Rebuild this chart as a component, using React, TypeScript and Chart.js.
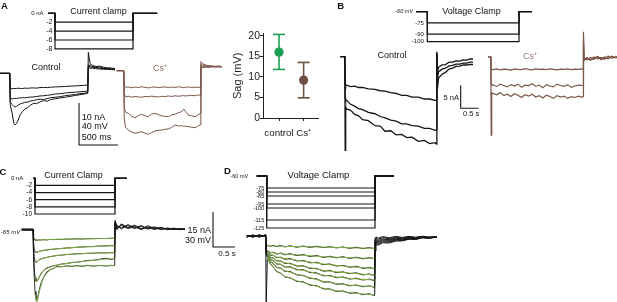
import React, { useEffect, useRef } from "react";
import { Chart, registerables } from "chart.js";
Chart.register(...registerables);

const FONT = '"Liberation Sans", Arial, Helvetica, sans-serif';
const BLACK = "#141414";
const CS_BROWN = "#7c5649";
const FIT_GREEN = "#84b243";

// ================= DATA =================
// ---- Panel A: current-clamp command (nA), times in ms ----
const cmdStepsA = [-2, -4, -6, -8];
const cmdTimesA = [-90, 0, 1000, 1310];

// ---- Panel A: control voltage traces (mV) ----
const tA = [-130, -3, 3, 25, 50, 65, 85, 105, 130, 160, 190, 225, 260, 300, 340, 385, 430, 480, 520, 580, 640, 700, 770, 840, 910, 960, 997, 1004, 1030, 1060, 1100, 1150, 1200, 1250, 1300, 1346];
const ctlA1 = [-60, -60, -74.5, -74.7, -74.3, -74.6, -74.4, -74.2, -74.4, -74.5, -74.1, -74.3, -74.0, -73.9, -74.1, -73.6, -73.5, -73.6, -73.2, -73.0, -72.8, -72.6, -72.2, -72.0, -71.7, -71.4, -71.2, -54.5, -55.2, -55.0, -55.6, -55.9, -56.1, -56.4, -56.3, -56.8];
const ctlA2 = [-60, -60, -84.0, -84.3, -84.1, -83.8, -84.0, -83.6, -83.5, -83.2, -83.4, -82.9, -82.7, -82.5, -82.1, -81.6, -81.4, -80.9, -80.6, -79.7, -79.5, -78.9, -78.3, -78.0, -77.5, -77.2, -76.9, -53.0, -54.0, -54.5, -54.3, -55.2, -55.6, -55.4, -56.0, -56.3];
const ctlA3 = [-60, -60, -87.5, -89.5, -91.5, -92.1, -91.5, -90.3, -89.2, -88.5, -87.6, -87.4, -86.4, -86.0, -85.2, -84.6, -84.9, -84.0, -83.2, -82.8, -82.3, -81.4, -80.8, -80.2, -79.3, -78.9, -78.4, -52.0, -52.8, -53.6, -54.2, -54.0, -55.0, -55.3, -55.8, -56.0];
const ctlA4 = [-60, -60, -90, -97, -108, -109.2, -107.5, -104.5, -99.5, -96.5, -94.0, -92.8, -90.5, -88.6, -88.9, -87.2, -86.0, -86.6, -85.0, -84.2, -83.5, -82.9, -82.0, -81.0, -80.3, -79.6, -79.0, -40.0, -51.5, -52.5, -53.5, -53.2, -54.3, -54.8, -55.0, -55.5];

// ---- Panel A: Cs+ voltage traces (mV) ----
const tCsA = [-95, -3, 3, 20, 57, 100, 144, 188, 231, 275, 318, 360, 405, 450, 492, 535, 580, 623, 667, 710, 754, 780, 800, 841, 885, 928, 960, 994, 1005, 1030, 1070, 1110, 1150, 1190, 1230, 1280];
const csA1 = [-60, -60, -74, -75.8, -75.5, -76.2, -75.6, -76.0, -75.3, -75.9, -76.4, -75.7, -75.5, -76.1, -75.8, -75.4, -76.0, -75.6, -75.9, -75.3, -75.8, -76.2, -75.7, -75.5, -76.0, -75.6, -75.9, -75.7, -57.5, -57.2, -56.6, -56.9, -56.4, -56.6, -56.3, -56.4];
const csA2 = [-60, -60, -82, -84.8, -84.3, -85.2, -84.6, -84.9, -85.3, -84.5, -84.8, -84.2, -84.7, -85.0, -84.4, -84.6, -84.1, -84.5, -83.9, -84.3, -84.0, -83.6, -84.1, -83.8, -83.5, -83.9, -83.3, -83.1, -55.5, -56.2, -56.0, -55.6, -56.1, -55.8, -56.3, -56.0];
const csA3 = [-60, -60, -95, -99.5, -100.6, -103.5, -104.8, -102.8, -101.5, -103.0, -103.8, -101.2, -100.6, -101.8, -102.9, -103.5, -103.8, -102.0, -101.5, -100.0, -99.0, -96.5, -98.5, -102.2, -103.0, -103.8, -102.5, -100.6, -54, -54.8, -55.6, -55.2, -56.0, -55.9, -55.4, -56.1];
const csA4 = [-60, -60, -105, -114, -116.5, -118.5, -119.6, -119.0, -118.1, -119.5, -120.6, -119.0, -117.4, -116.8, -116.5, -115.8, -115.5, -114.0, -111.7, -112.6, -112.4, -113.0, -112.8, -113.3, -113.8, -114.3, -113.0, -111.7, -51.4, -53.5, -54.5, -55.8, -55.3, -56.2, -55.9, -56.5];

// ---- Panel A: Sag summary (mV) ----
const sagCategories = ["control", "Cs\u207A"];
const sagMean = [16.0, 9.2];
const sagLow = [11.8, 4.9];
const sagHigh = [20.3, 13.5];
const sagTicks = [0, 5, 10, 15, 20];

// ---- Panel B: voltage-clamp command (mV) ----
const cmdStepsB = [-75, -90, -100];
const cmdTimesB = [-320, 0, 2600, 2960];

// ---- Panel B: control current traces (nA) ----
const tB = [-130, -5, 5, 20, 48, 150, 285, 380, 500, 662, 850, 1000, 1134, 1300, 1450, 1607, 1750, 1900, 2079, 2250, 2400, 2552, 2595, 2605, 2620, 2650, 2750, 2850, 2950, 3050, 3150, 3250, 3350, 3450, 3550, 3630];
const ctlB1 = [0, 0, -6.0, -6.3, -6.2, -6.5, -6.4, -6.7, -6.65, -7.0, -7.1, -7.4, -7.5, -7.8, -8.0, -8.4, -8.4, -8.8, -8.8, -9.2, -9.2, -9.5, -9.45, 0.5, -3.5, -2.3, -1.8, -1.7, -1.2, -1.2, -0.9, -0.95, -0.7, -0.75, -0.5, -0.5];
const ctlB2 = [0, 0, -9.0, -9.5, -9.5, -10.3, -10.8, -11.3, -11.5, -12.1, -12.4, -13.0, -13.3, -13.8, -14.0, -14.6, -14.6, -15.0, -15.1, -15.6, -15.6, -16.0, -15.9, 0.8, -5.0, -3.3, -2.7, -2.5, -2.0, -1.9, -1.6, -1.6, -1.4, -1.4, -1.2, -1.2];
const ctlB3 = [0, 0, -20.5, -10.9, -11.4, -11.6, -12.6, -12.8, -13.7, -13.9, -15.0, -15.1, -16.2, -16.1, -17.0, -16.9, -17.6, -17.5, -18.4, -18.2, -18.9, -18.7, -19.0, 1.1, -7.0, -4.7, -3.8, -3.4, -2.7, -2.5, -2.1, -2.05, -1.8, -1.8, -1.65, -1.7];

// ---- Panel B: Cs+ current traces (nA) ----
const tCsB = [-85, -5, 5, 20, 60, 160, 260, 360, 460, 560, 660, 760, 860, 960, 1060, 1160, 1260, 1360, 1460, 1560, 1660, 1760, 1860, 1960, 2060, 2160, 2260, 2360, 2460, 2560, 2598, 2605, 2620, 2700, 2800, 2900, 3000, 3100, 3200, 3300, 3400, 3500, 3550];
const csB1 = [0, 0, -2.6, -2.7, -2.75, -2.6, -2.8, -2.65, -2.7, -2.9, -2.6, -2.7, -2.75, -2.55, -2.7, -2.8, -2.6, -2.7, -2.65, -2.75, -2.6, -2.7, -2.8, -2.65, -2.7, -2.6, -2.75, -2.65, -2.7, -2.6, -2.65, 3.0, -0.3, -0.6, -0.1, -0.5, 0.1, -0.4, 0.0, -0.3, 0.1, -0.2, 0.0];
const csB2 = [0, 0, -5.8, -6.0, -6.1, -6.4, -5.9, -6.2, -6.5, -6.0, -6.3, -5.9, -6.6, -6.1, -6.2, -5.8, -6.4, -6.1, -6.7, -6.0, -6.3, -6.5, -5.9, -6.2, -6.4, -6.0, -6.6, -6.3, -6.1, -6.2, -6.2, 4.0, -0.5, -0.2, -0.6, 0.0, -0.4, -0.1, -0.5, 0.2, -0.3, 0.0, -0.2];
const csB3 = [0, 0, -17, -7.8, -7.9, -8.2, -7.7, -8.4, -8.1, -8.6, -8.0, -8.3, -8.8, -8.2, -8.5, -8.1, -8.7, -8.4, -8.9, -8.3, -8.6, -9.0, -8.4, -8.7, -8.5, -9.0, -8.6, -8.8, -8.5, -8.7, -8.6, 5.5, -0.8, -0.1, -0.7, -0.3, 0.1, -0.6, -0.2, -0.4, 0.2, -0.1, 0.1];

// ---- Panel C: current-clamp command (nA) ----
const cmdStepsC = [-2, -4, -6, -8, -10];
const cmdTimesC = [-39, 0, 1850, 2120];

// ---- Panel C: voltage traces (mV) and fits ----
const tC = [-264, -5, 5, 20, 40, 60, 77, 100, 130, 170, 227, 303, 379, 455, 530, 650, 758, 870, 985, 1100, 1230, 1364, 1500, 1650, 1780, 1850, 1860, 1900, 2000, 2150, 2300, 2450, 2600, 2750, 2900, 3050, 3200, 3330, 3448];
const baseC1 = [-64.6, -64.6];
const baseC2 = [-65.4, -65.4];
const stepC1 = [-71, -73.4, -73.6, -74.2, -73.8, -74.0, -73.7, -73.9, -73.5, -73.8, -73.3, -73.5, -73.2, -73.4, -73.0, -73.1, -72.8, -73.0, -72.7, -72.7, -72.5, -72.6, -72.3, -72.4];
const stepC2 = [-76, -82.2, -84.0, -84.6, -84.3, -84.1, -83.5, -83.3, -82.7, -82.5, -81.9, -81.8, -81.3, -81.1, -80.6, -80.5, -80.0, -79.9, -79.5, -79.5, -79.0, -78.9, -78.6, -78.7];
const stepC3 = [-80, -88.0, -92.2, -92.9, -92.6, -92.1, -90.8, -90.1, -89.4, -88.8, -88.0, -87.7, -87.1, -86.8, -86.2, -86.1, -85.6, -85.6, -85.2, -85.2, -84.8, -84.9, -84.6, -84.7];
const stepC4 = [-85, -97, -106, -109, -109.6, -108.3, -106.2, -102.8, -100.2, -97.8, -96.9, -95.8, -95.5, -94.3, -94.0, -93.1, -92.8, -92.3, -91.4, -91.2, -90.4, -89.4, -90.6, -89.5];
const stepC5 = [-88, -105, -118, -124, -125.5, -123, -117.5, -111.5, -106.2, -101.4, -99.2, -98.3, -96.5, -96.8, -95.9, -96.6, -95.7, -96.4, -95.5, -96.3, -95.6, -96.1, -95.5, -95.8];
const postC1 = [-60, -63.5, -61.5, -64.0, -62.5, -64.5, -63.0, -64.8, -63.5, -64.9, -64.0, -64.9, -64.5];
const postC2 = [-59, -62.0, -63.5, -61.5, -64.0, -62.0, -64.5, -63.0, -65.0, -63.5, -64.8, -64.2, -64.6];
const postC3 = [-58.5, -64.5, -60.5, -63.5, -61.0, -64.0, -62.5, -64.5, -63.0, -65.0, -64.0, -64.6, -64.3];
const postC4 = [-58, -61.0, -64.5, -60.5, -63.5, -61.5, -64.0, -62.5, -64.5, -63.8, -64.9, -64.0, -64.7];
const postC5 = [-57, -65.0, -60.0, -63.0, -62.0, -65.0, -61.5, -64.0, -63.2, -64.5, -63.6, -65.0, -64.2];
const tFitC = [40, 77, 130, 227, 379, 530, 758, 985, 1230, 1500, 1850];
const fitC1 = [-73.8, -73.9, -73.9, -73.6, -73.4, -73.3, -73.1, -72.9, -72.8, -72.6, -72.4];
const fitC2 = [-84.2, -84.4, -83.6, -82.8, -82.0, -81.4, -80.7, -80.1, -79.6, -79.1, -78.7];
const fitC3 = [-92.0, -92.8, -91.0, -89.5, -88.1, -87.2, -86.3, -85.7, -85.3, -84.9, -84.7];
const fitC4 = [-106, -109.8, -106, -100, -96.9, -95.3, -93.9, -92.8, -91.8, -90.8, -89.6];
const fitC5 = [-120, -129, -119, -106, -99.5, -97.0, -96.2, -96.0, -95.9, -95.8, -95.8];

// ---- Panel D: voltage-clamp command (mV) ----
const cmdStepsD = [-75, -80, -85, -95, -100, -115, -125];
const cmdTimesD = [-229, 0, 2480, 2915];

// ---- Panel D: current traces (nA) and fits ----
const tD = [-439, -300, -150, -5, 3, 30, 53, 100, 160, 242, 330, 430, 545, 700, 850, 1000, 1150, 1303, 1450, 1600, 1750, 1900, 2050, 2200, 2350, 2470, 2480, 2500, 2550, 2650, 2800, 2950, 3100, 3250, 3400, 3550, 3700, 3880];
const baseD1 = [0.3, -0.4, 0.4, -0.3];
const baseD2 = [-0.5, 0.4, -0.4, 0.5];
const stepD1 = [-3.5, -4.4, -3.9, -4.5, -4.0, -4.6, -4.1, -4.7, -4.2, -4.8, -4.3, -4.9, -4.4, -5.0, -4.6, -5.1, -4.7, -5.3, -4.8, -5.4, -5.0, -5.4];
const stepD2 = [-5.5, -6.7, -6.4, -7.3, -6.9, -7.8, -7.3, -8.1, -7.6, -8.4, -8.0, -8.8, -8.4, -9.2, -8.7, -9.4, -8.9, -9.6, -9.1, -9.8, -9.3, -9.7];
const stepD3 = [-6, -7.3, -7.1, -8.3, -8.2, -9.3, -9.1, -10.0, -9.7, -10.7, -10.5, -11.5, -11.3, -12.3, -12.0, -12.9, -12.6, -13.4, -13.0, -13.9, -13.5, -14.1];
const stepD4 = [-6.5, -8.1, -7.9, -9.3, -9.4, -10.7, -10.7, -11.8, -11.7, -12.9, -12.8, -13.9, -13.9, -15.1, -14.8, -15.7, -15.4, -16.2, -15.8, -16.7, -16.3, -17.0];
const stepD5 = [-7, -8.7, -8.6, -10.2, -10.5, -12.0, -12.1, -13.3, -13.2, -14.5, -14.5, -15.7, -15.8, -17.1, -16.9, -17.9, -17.6, -18.5, -18.1, -18.9, -18.5, -19.2];
const stepD6 = [-7.5, -9.3, -9.3, -11.1, -11.7, -13.5, -13.8, -15.2, -15.2, -16.7, -16.9, -18.2, -18.4, -19.8, -19.7, -20.7, -20.5, -21.4, -21.0, -21.8, -21.4, -22.1];
const stepD7 = [-30, -9.9, -10.0, -12.1, -13.1, -15.3, -15.9, -17.6, -17.9, -19.5, -19.7, -21.1, -21.3, -22.7, -22.7, -23.8, -23.6, -24.6, -24.3, -25.2, -24.8, -25.6];
const postD1 = [-0.8, -0.4, -0.9, -0.3, -0.7, -0.2, -0.6, -0.2, -0.5, -0.1, -0.4, -0.2];
const postD2 = [-1.4, -1.0, -1.5, -0.7, -1.2, -0.5, -0.9, -0.4, -0.8, -0.3, -0.6, -0.3];
const postD3 = [-2.0, -1.6, -2.0, -1.2, -1.6, -0.9, -1.2, -0.6, -1.0, -0.4, -0.7, -0.4];
const postD4 = [-2.6, -2.2, -2.5, -1.6, -1.9, -1.2, -1.4, -0.8, -1.1, -0.5, -0.8, -0.4];
const postD5 = [-3.2, -2.7, -3.0, -2.0, -2.3, -1.5, -1.7, -1.0, -1.2, -0.6, -0.9, -0.4];
const postD6 = [-3.8, -3.3, -3.4, -2.5, -2.6, -1.8, -1.9, -1.2, -1.4, -0.7, -0.9, -0.5];
const postD7 = [-6.5, -3.8, -3.9, -2.9, -3.0, -2.2, -2.1, -1.4, -1.5, -0.8, -1.0, -0.5];
const tFitD = [30, 100, 242, 430, 700, 1000, 1303, 1600, 1900, 2200, 2470];
const fitD1 = [-4.1, -4.25, -4.35, -4.45, -4.55, -4.65, -4.75, -4.9, -5.05, -5.2, -5.3];
const fitD2 = [-6.4, -6.95, -7.45, -7.8, -8.1, -8.5, -8.9, -9.1, -9.3, -9.5, -9.6];
const fitD3 = [-7.0, -8.0, -9.0, -9.7, -10.4, -11.2, -12.0, -12.6, -13.1, -13.6, -13.9];
const fitD4 = [-7.8, -9.0, -10.4, -11.5, -12.6, -13.6, -14.8, -15.4, -15.9, -16.4, -16.7];
const fitD5 = [-8.4, -9.9, -11.7, -13.0, -14.2, -15.4, -16.8, -17.6, -18.2, -18.6, -18.9];
const fitD6 = [-9.0, -10.8, -13.2, -14.9, -16.4, -17.9, -19.5, -20.4, -21.1, -21.5, -21.8];
const fitD7 = [-9.6, -11.8, -15.0, -17.3, -19.2, -20.8, -22.4, -23.5, -24.3, -24.9, -25.3];

// ================= HELPERS =================
type P = { x: number; y: number };
const pts = (t: number[], v: number[]): P[] => t.map((x, i) => ({ x, y: v[i] }));
const stepPoly = (times: number[], hold: number, level: number): P[] => [
  { x: times[0], y: hold }, { x: times[1], y: hold }, { x: times[1], y: level },
  { x: times[2], y: level }, { x: times[2], y: hold }, { x: times[3], y: hold },
];
const scaleBar = (t: number, v: number, dt: number, dv: number): P[] => [
  { x: t, y: v + dv }, { x: t, y: v }, { x: t + dt, y: v },
];

type Series = { data: P[]; color: string; width?: number };
type LabelItem = { value: number; text: string; x: number; gap: number; size: number; italic?: boolean; dy?: number };
type MiniProps = {
  box: [number, number, number, number];
  xRef: [number, number]; xPx: number;
  yRef: [number, number]; yPx: number;
  series: Series[];
  labels?: LabelItem[];
};

function Mini(p: MiniProps) {
  const ref = useRef<HTMLCanvasElement>(null);
  const [l, t, w, h] = p.box;
  useEffect(() => {
    const xMin = p.xRef[0] + (l - p.xRef[1]) / p.xPx;
    const xMax = xMin + w / p.xPx;
    const yMax = p.yRef[0] + (p.yRef[1] - t) / p.yPx;
    const yMin = yMax - h / p.yPx;
    const labelPlugin = {
      id: "levelLabels",
      afterDraw(chart: any) {
        if (!p.labels) return;
        const ctx = chart.ctx;
        const xs = chart.scales.x, ys = chart.scales.y;
        ctx.save();
        ctx.fillStyle = "#111";
        ctx.textAlign = "right";
        ctx.textBaseline = "middle";
        for (const it of p.labels) {
          ctx.font = `${it.italic ? "italic " : ""}${it.size}px ${FONT}`;
          ctx.fillText(it.text, xs.getPixelForValue(it.x) - it.gap, ys.getPixelForValue(it.value) + (it.dy || 0));
        }
        ctx.restore();
      },
    };
    const chart = new Chart(ref.current as HTMLCanvasElement, {
      type: "line",
      data: {
        datasets: p.series.map((s) => ({
          data: s.data,
          borderColor: s.color,
          borderWidth: s.width ?? 1,
          pointRadius: 0,
          fill: false,
          tension: 0,
          clip: false,
        })) as any,
      },
      options: {
        animation: false,
        responsive: false,
        devicePixelRatio: 1,
        events: [],
        layout: { padding: 0 },
        plugins: { legend: { display: false }, tooltip: { enabled: false } },
        scales: {
          x: { type: "linear", display: false, min: xMin, max: xMax },
          y: { type: "linear", display: false, min: yMin, max: yMax },
        },
      } as any,
      plugins: [labelPlugin as any],
    });
    return () => chart.destroy();
  }, []);
  return (
    <canvas ref={ref} width={w} height={h}
      style={{ position: "absolute", left: l, top: t, width: w, height: h }} />
  );
}

function SagChart() {
  const ref = useRef<HTMLCanvasElement>(null);
  useEffect(() => {
    const colors = ["#1c9f52", "#6e5047"];
    const datasets: any[] = [];
    sagMean.forEach((m, i) => {
      const x = i + 1;
      datasets.push({
        type: "scatter", data: [{ x, y: m }], pointRadius: 4.6,
        pointBackgroundColor: colors[i], pointBorderColor: colors[i], pointBorderWidth: 0,
      });
      datasets.push({
        type: "line", data: [{ x, y: sagLow[i] }, { x, y: sagHigh[i] }],
        borderColor: colors[i], borderWidth: 1.6, showLine: true, clip: false,
        pointStyle: "line", pointRadius: 6, pointBorderWidth: 1.6,
        pointBorderColor: colors[i], pointBackgroundColor: colors[i],
      });
    });
    const tickFont = { family: FONT, size: 10.5 };
    const chart = new Chart(ref.current as HTMLCanvasElement, {
      type: "scatter",
      data: { datasets },
      options: {
        animation: false, responsive: false, devicePixelRatio: 1, events: [],
        layout: { padding: { top: 7, right: 6, left: 0, bottom: 0 } },
        plugins: { legend: { display: false }, tooltip: { enabled: false } },
        scales: {
          x: {
            type: "linear", min: 0.35, max: 2.6,
            afterBuildTicks: (s: any) => { s.ticks = [{ value: 1 }, { value: 2 }]; },
            afterFit: (s: any) => { s.height = 28; },
            ticks: { callback: (v: any) => sagCategories[Math.round(v) - 1], font: { family: FONT, size: 9.8 }, color: "#222", padding: 6, autoSkip: false, maxRotation: 0 },
            grid: { display: true, drawOnChartArea: false, drawTicks: true, tickLength: 3, color: "#222", lineWidth: 1 },
            border: { color: "#222", width: 1 },
          },
          y: {
            type: "linear", min: 0, max: 20.5,
            afterBuildTicks: (s: any) => { s.ticks = sagTicks.map((v) => ({ value: v })); },
            afterFit: (s: any) => { s.width = 37; },
            ticks: { font: tickFont, color: "#222", padding: 0 },
            grid: { display: true, drawOnChartArea: false, drawTicks: true, tickLength: 3, color: "#222", lineWidth: 1 },
            border: { color: "#222", width: 1 },
            title: { display: true, text: "Sag (mV)", font: { family: FONT, size: 11 }, color: "#222", padding: { top: 5.5, bottom: 0 } },
          },
        },
      } as any,
    });
    return () => chart.destroy();
  }, []);
  return <canvas ref={ref} width={100} height={120} style={{ position: "absolute", left: 226, top: 26, width: 100, height: 120 }} />;
}

function Txt(props: { x: number; y: number; size?: number; align?: "left" | "center" | "right"; bold?: boolean; italic?: boolean; color?: string; children: any }) {
  const { x, y, size = 9, align = "center", bold, italic, color = "#111" } = props;
  const tx = align === "center" ? "-50%" : align === "right" ? "-100%" : "0";
  return (
    <div style={{
      position: "absolute", left: x, top: y, transform: `translate(${tx}, -50%)`,
      fontSize: size, lineHeight: 1, fontFamily: FONT, whiteSpace: "nowrap",
      fontWeight: bold ? 700 : 400, fontStyle: italic ? "italic" : "normal", color,
    }}>{props.children}</div>
  );
}

export default function App() {
  // Panel A series
  const aCmd: Series[] = cmdStepsA.map((lv) => ({ data: stepPoly(cmdTimesA, 0, lv), color: BLACK, width: 1.2 }));
  const aCmdLabels: LabelItem[] = [
    { value: 0, text: "0 nA", x: cmdTimesA[0], gap: 4.5, size: 6 },
    ...cmdStepsA.map((lv) => ({ value: lv, text: String(lv), x: cmdTimesA[1], gap: 2.5, size: 7 })),
  ];
  const aCtl: Series[] = [
    ...[ctlA1, ctlA2, ctlA3, ctlA4].map((v) => ({ data: pts(tA, v), color: BLACK, width: 1 })),
    { data: scaleBar(885, -128.3, 500, 40), color: BLACK, width: 1.1 },
  ];
  const aCs: Series[] = [csA1, csA2, csA3, csA4].map((v) => ({ data: pts(tCsA, v), color: CS_BROWN, width: 1 }));

  // Panel B series
  const bCmd: Series[] = cmdStepsB.map((lv) => ({ data: stepPoly(cmdTimesB, -60, lv), color: BLACK, width: 1.2 }));
  const bCmdLabels: LabelItem[] = [
    { value: -60, text: "-60 mV", x: cmdTimesB[0], gap: 3, size: 5.5, italic: true },
    ...cmdStepsB.map((lv) => ({ value: lv, text: String(lv), x: cmdTimesB[1], gap: 3.5, size: 6 })),
  ];
  const bCtl: Series[] = [
    ...[ctlB1, ctlB2, ctlB3].map((v) => ({ data: pts(tB, v), color: BLACK, width: 1.3 })),
    { data: scaleBar(3280, -11.2, 500, 5), color: BLACK, width: 1.1 },
  ];
  const bCs: Series[] = [csB1, csB2, csB3].map((v) => ({ data: pts(tCsB, v), color: CS_BROWN, width: 1.2 }));

  // Panel C series
  const cCmd: Series[] = cmdStepsC.map((lv) => ({ data: stepPoly(cmdTimesC, 0, lv), color: BLACK, width: 1.2 }));
  const cCmdLabels: LabelItem[] = [
    { value: 0, text: "0 nA", x: cmdTimesC[0], gap: 10, size: 6 },
    ...cmdStepsC.map((lv) => ({ value: lv, text: String(lv), x: cmdTimesC[1], gap: 3, size: 6.5 })),
  ];
  const cSteps = [stepC1, stepC2, stepC3, stepC4, stepC5];
  const cPosts = [postC1, postC2, postC3, postC4, postC5];
  const cFits = [fitC1, fitC2, fitC3, fitC4, fitC5];
  const cTr: Series[] = [
    ...cFits.map((v) => ({ data: pts(tFitC, v), color: FIT_GREEN, width: 0.9 })),
    ...cSteps.map((s, i) => ({ data: pts(tC, [...(i % 2 ? baseC2 : baseC1), ...s, ...cPosts[i]]), color: BLACK, width: 0.9 })),
    { data: scaleBar(4084, -79.8, 500, 30), color: BLACK, width: 1.1 },
  ];
  const cTrLabels: LabelItem[] = [{ value: -65, text: "-65 mV", x: tC[0], gap: 1.5, size: 6, italic: true, dy: 3 }];

  // Panel D series
  const dCmd: Series[] = cmdStepsD.map((lv) => ({ data: stepPoly(cmdTimesD, -60, lv), color: BLACK, width: 1.2 }));
  const dCmdLabels: LabelItem[] = [
    { value: -60, text: "-60 mV", x: cmdTimesD[0], gap: 8.5, size: 5.5 },
    ...cmdStepsD.map((lv) => ({ value: lv, text: String(lv), x: cmdTimesD[1], gap: 2.5, size: 5.5 })),
  ];
  const dSteps = [stepD1, stepD2, stepD3, stepD4, stepD5, stepD6, stepD7];
  const dPosts = [postD1, postD2, postD3, postD4, postD5, postD6, postD7];
  const dFits = [fitD1, fitD2, fitD3, fitD4, fitD5, fitD6, fitD7];
  const dTr: Series[] = [
    ...dFits.map((v) => ({ data: pts(tFitD, v), color: FIT_GREEN, width: 1 })),
    ...dSteps.map((s, i) => ({ data: pts(tD, [...(i % 2 ? baseD2 : baseD1), ...s, ...dPosts[i]]), color: BLACK, width: 1 })),
  ];

  return (
    <div style={{ position: "fixed", left: 0, top: 0, width: 617, height: 302, background: "#fff", overflow: "hidden" }}>
      {/* Panel A */}
      <Mini box={[22, 5, 140, 50]} xRef={[0, 55]} xPx={0.078} yRef={[0, 13.3]} yPx={4.45} series={aCmd} labels={aCmdLabels} />
      <Mini box={[0, 45, 122, 103]} xRef={[0, 10]} xPx={0.078} yRef={[-60, 73.3]} yPx={1.05} series={aCtl} />
      <Mini box={[114, 50, 112, 90]} xRef={[0, 124]} xPx={0.0765} yRef={[-60, 70.7]} yPx={1.05} series={aCs} />
      <SagChart />
      <Txt x={4.5} y={5.5} size={9.5} bold>A</Txt>
      <Txt x={98.5} y={10.5}>Current clamp</Txt>
      <Txt x={46} y={67}>Control</Txt>
      <Txt x={160} y={67.5} color="#8d6a5f">Cs⁺</Txt>
      <Txt x={81.7} y={117} align="left">10 nA</Txt>
      <Txt x={81.7} y={126.3} align="left">40 mV</Txt>
      <Txt x={81.7} y={136.5} align="left">500 ms</Txt>

      {/* Panel B */}
      <Mini box={[390, 3, 146, 45]} xRef={[0, 427.3]} xPx={0.03527} yRef={[-60, 11.7]} yPx={0.75} series={bCmd} labels={bCmdLabels} />
      <Mini box={[336, 45, 146, 106]} xRef={[0, 345]} xPx={0.03527} yRef={[0, 56.7]} yPx={4.6} series={bCtl} />
      <Mini box={[484, 25, 133, 115]} xRef={[0, 491]} xPx={0.0355} yRef={[0, 57]} yPx={4.6} series={bCs} />
      <Txt x={340.7} y={6} size={9.5} bold>B</Txt>
      <Txt x={471.5} y={11}>Voltage Clamp</Txt>
      <Txt x={392} y={55}>Control</Txt>
      <Txt x={530} y={56.3} color="#9a7a70">Cs⁺</Txt>
      <Txt x={459} y={98.3} size={7.5} align="right">5 nA</Txt>
      <Txt x={463} y={114} size={7.5} align="left">0.5 s</Txt>

      {/* Panel C */}
      <Mini box={[8, 172, 125, 46]} xRef={[0, 35]} xPx={0.04324} yRef={[0, 178.3]} yPx={3.57} series={cCmd} labels={cCmdLabels} />
      <Mini box={[0, 208, 240, 94]} xRef={[0, 33.3]} xPx={0.044} yRef={[-65, 229.7]} yPx={1.167} series={cTr} labels={cTrLabels} />
      <Txt x={3} y={171.7} size={9.5} bold>C</Txt>
      <Txt x={73.5} y={175}>Current Clamp</Txt>
      <Txt x={211} y={230} align="right">15 nA</Txt>
      <Txt x={211} y={239.5} align="right">30 mV</Txt>
      <Txt x={227} y={253.5} size={8}>0.5 s</Txt>

      {/* Panel D */}
      <Mini box={[228, 170, 170, 62]} xRef={[0, 266.7]} xPx={0.04367} yRef={[-60, 176]} yPx={0.8} series={dCmd} labels={dCmdLabels} />
      <Mini box={[244, 225, 200, 77]} xRef={[0, 266]} xPx={0.044} yRef={[0, 236]} yPx={2.33} series={dTr} />
      <Txt x={227.5} y={171} size={9.5} bold>D</Txt>
      <Txt x={318.5} y={175} size={9.5}>Voltage Clamp</Txt>
    </div>
  );
}
